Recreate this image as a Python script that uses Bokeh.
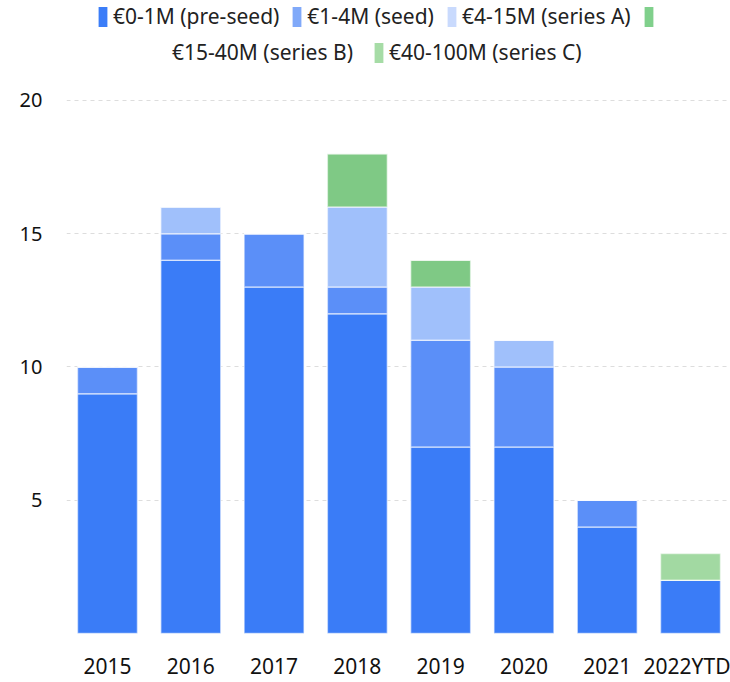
from bokeh.plotting import figure
from bokeh.models import (ColumnDataSource, Range1d, FixedTicker,
                          Legend, LegendItem)
from bokeh.embed import file_html
from bokeh.resources import INLINE

years = ["2015", "2016", "2017", "2018", "2019", "2020", "2021", "2022YTD"]
series = ["pre_seed", "seed", "series_a", "series_b", "series_c"]
labels = ["€0-1M (pre-seed)", "€1-4M (seed)", "€4-15M (series A)",
          "€15-40M (series B)", "€40-100M (series C)"]
pre_seed = [9, 14, 13, 12, 7, 7, 4, 2]
seed = [1, 1, 2, 1, 4, 3, 1, 0]
series_a = [0, 1, 0, 3, 2, 1, 0, 0]
series_b = [0, 0, 0, 2, 1, 0, 0, 0]
series_c = [0, 0, 0, 0, 0, 0, 0, 1]
y_ticks = [0, 5, 10, 15, 20]

bar_colors = ["#3a7cf7", "#5b8ff8", "#a0c0fb", "#7fc985", "#a2d9a2"]
legend_colors = ["#3b7df8", "#80a9f9", "#c9dafd", "#80d08c", "#a6dca6"]

idx = list(range(len(years)))
src = ColumnDataSource(dict(x=idx, pre_seed=pre_seed, seed=seed,
                            series_a=series_a, series_b=series_b,
                            series_c=series_c))

p = figure(width=730, height=682, x_range=Range1d(-0.492, 7.48),
           y_range=Range1d(0, 23.75), output_backend="svg",
           toolbar_location=None, min_border_left=66, min_border_right=0,
           min_border_top=0, min_border_bottom=49)
p.outline_line_color = None

p.vbar_stack(series, x="x", width=0.72, source=src, color=bar_colors,
             line_color="white", line_alpha=0.55, line_width=1.5)

# legend-only renderers (zero-height, invisible in the plot)
dummies = []
for c in legend_colors:
    dummies.append(p.vbar(x=[idx[0]], top=[0], bottom=[0], width=0.01,
                          fill_color=c, line_color=None))
blank = p.vbar(x=[idx[0]], top=[0], bottom=[0], width=0.01,
               fill_alpha=0, line_alpha=0)

common = dict(orientation="horizontal", glyph_width=11, glyph_height=25,
              label_standoff=5, padding=0, margin=0, border_line_color=None,
              background_fill_alpha=0, label_text_font="Noto Sans",
              label_text_font_size="21px", label_text_color="#222222",
              label_height=25)

leg1 = Legend(items=[LegendItem(label=labels[0], renderers=[dummies[0]]),
                     LegendItem(label=labels[1], renderers=[dummies[1]]),
                     LegendItem(label=labels[2], renderers=[dummies[2]]),
                     LegendItem(label=" ", renderers=[dummies[3]])],
              location=(31, 603), spacing=12, **common)
leg2 = Legend(items=[LegendItem(label=labels[3], renderers=[blank]),
                     LegendItem(label=labels[4], renderers=[dummies[4]])],
              location=(90, 567), spacing=20, **common)
p.add_layout(leg1, "center")
p.add_layout(leg2, "center")

p.yaxis.ticker = FixedTicker(ticks=y_ticks)
p.yaxis.major_label_overrides = {0: ""}
p.yaxis.axis_line_color = None
p.yaxis.major_tick_line_color = None
p.yaxis.minor_tick_line_color = None
p.yaxis.major_tick_out = 0
p.yaxis.minor_tick_out = 0
p.yaxis.major_label_standoff = 24
p.yaxis.major_label_text_font = "Noto Sans"
p.yaxis.major_label_text_font_size = "20px"
p.yaxis.major_label_text_color = "#111111"

p.xaxis.ticker = FixedTicker(ticks=idx)
p.xaxis.major_label_overrides = {i: y for i, y in zip(idx, years)}
p.xaxis.axis_line_color = None
p.xaxis.major_tick_line_color = None
p.xaxis.minor_tick_line_color = None
p.xaxis.major_tick_out = 0
p.xaxis.minor_tick_out = 0
p.xaxis.axis_label_standoff = 0
p.xaxis.major_label_standoff = 18
p.xaxis.major_label_text_font = "Noto Sans"
p.xaxis.major_label_text_font_size = "21px"
p.xaxis.major_label_text_color = "#111111"

p.xgrid.grid_line_color = None
p.ygrid.grid_line_color = "#dddddd"
p.ygrid.grid_line_dash = "4 4"
p.ygrid.grid_line_width = 1

open("out.html", "w").write(file_html(p, INLINE))
